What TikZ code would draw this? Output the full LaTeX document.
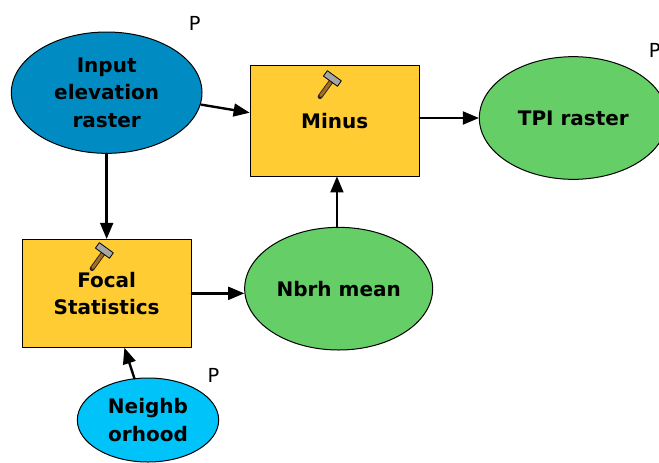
\documentclass[tikz,border=0pt]{standalone}
\usepackage{fontspec}
\setmainfont{DejaVu Sans}
\usetikzlibrary{arrows}
\usetikzlibrary{shapes.geometric}
\definecolor{toolcol}{RGB}{255,204,51}
\definecolor{inputcol}{RGB}{0,140,195}
\definecolor{paramcol}{RGB}{0,195,250}
\definecolor{outcol}{RGB}{102,206,102}
\definecolor{handlecol}{RGB}{165,110,30}
\tikzset{
  toolbox/.style={draw=black,line width=.75pt,fill=toolcol,inner sep=0pt,align=center},
  datanode/.style={ellipse,draw=black,line width=.75pt,inner sep=0pt,align=center},
  plabel/.style={font=\fontsize{14.5}{14.5}\selectfont,inner sep=0pt},
  link/.style={->,line width=1.8pt}
}
\newcommand{\hammer}[2]{%
  \begin{scope}[shift={(#1,#2)},rotate=-36]
    \draw[line width=3.6pt,color=black!85] (0,0) -- (0,16);
    \draw[line width=2.2pt,color=handlecol] (0,1) -- (0,16);
    \fill[color=black!35,draw=black,line width=.6pt] (-7,14) rectangle (6,19);
  \end{scope}}
\begin{document}
\begin{tikzpicture}[x=1pt,y=1pt,>=triangle 45,line cap=round,line join=round,font=\fontsize{15}{20.5}\selectfont\bfseries]
  \useasboundingbox (0,0) rectangle (494.25,346.5);
  \fill[white] (0,0) rectangle (494.25,346.5);
  % scale is 0.75pt per pixel of the reference
  \node[datanode,fill=inputcol,minimum width=143pt,minimum height=91pt] (input) at (80,277) {Input\\elevation\\raster};
  \node[toolbox,minimum width=127pt,minimum height=83pt] (minus) at (251,256) {Minus};
  \node[datanode,fill=outcol,minimum width=141pt,minimum height=92pt] (tpi) at (430,258) {TPI raster};
  \node[toolbox,minimum width=127pt,minimum height=81pt] (focal) at (80,126.5) {Focal\\Statistics};
  \node[datanode,fill=outcol,minimum width=141pt,minimum height=92pt] (mean) at (254,130) {Nbrh mean};
  \node[datanode,fill=paramcol,minimum width=106pt,minimum height=63pt] (nbr) at (111,31.5) {Neighb\\orhood};
  \node[plabel] (p1) at (146,329) {P};
  \node[plabel] (p2) at (491,309) {P};
  \node[plabel] (p3) at (160,65) {P};
  \hammer{240}{274}
  \hammer{69}{145}
  \coordinate (inputout) at (151,268);
  \coordinate (minusin) at (minus.west |- 0,262);
  \coordinate (minusout) at (minus.east |- 0,258);
  \coordinate (meanup) at (252.7,176);
  \draw[link] (inputout) -- (minusin);
  \draw[link] (minusout) -- (tpi.west);
  \draw[link] (input.south) -- (focal.north);
  \draw[link] (focal.east) -- (mean.west |- focal.east);
  \draw[link] (meanup) -- (meanup |- minus.south);
  \draw[link] (nbr) -- (focal);
\end{tikzpicture}
\end{document}
